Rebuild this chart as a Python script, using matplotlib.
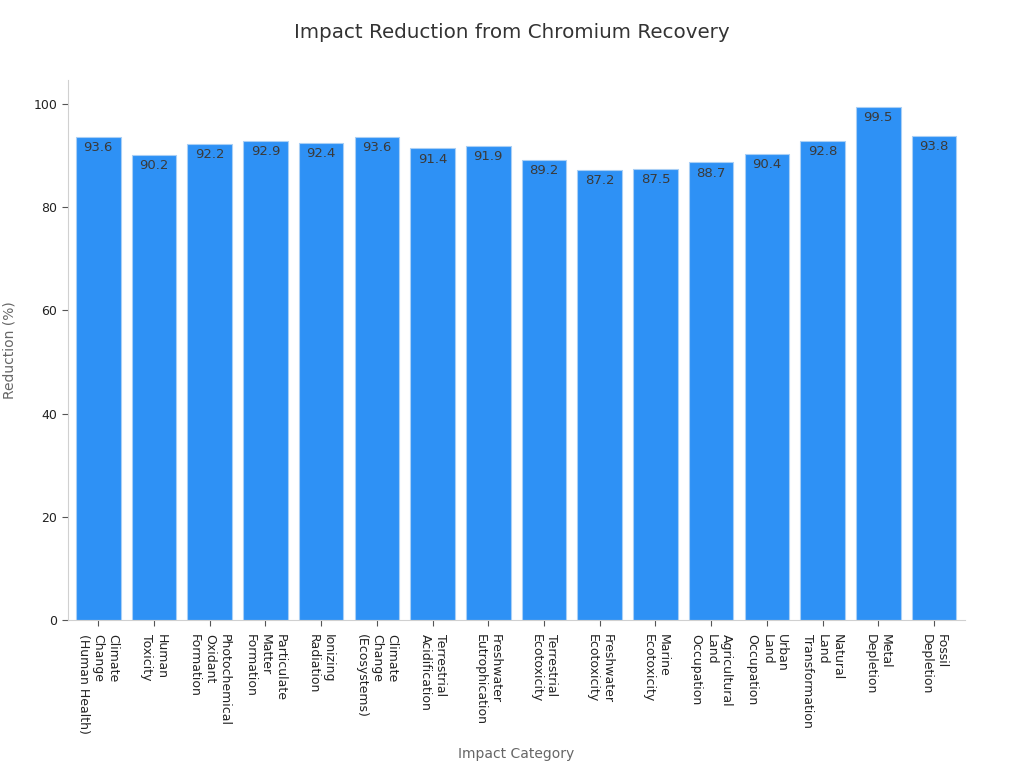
import numpy as np
import matplotlib.pyplot as plt

categories = ['Climate\nChange\n(Human Health)', 'Human\nToxicity', 'Photochemical\nOxidant\nFormation',
              'Particulate\nMatter\nFormation', 'Ionizing\nRadiation', 'Climate\nChange\n(Ecosystems)',
              'Terrestrial\nAcidification', 'Freshwater\nEutrophication', 'Terrestrial\nEcotoxicity',
              'Freshwater\nEcotoxicity', 'Marine\nEcotoxicity', 'Agricultural\nLand\nOccupation',
              'Urban\nLand\nOccupation', 'Natural\nLand\nTransformation', 'Metal\nDepletion', 'Fossil\nDepletion']
reduction = [93.6, 90.2, 92.2, 92.9, 92.4, 93.6, 91.4, 91.9, 89.2, 87.2, 87.5, 88.7, 90.4, 92.8, 99.5, 93.8]

fig = plt.figure(figsize=(10.24, 7.68), dpi=100)
ax = fig.add_axes([0.066, 0.193, 0.876, 0.703])

x = np.arange(len(categories))
bars = ax.bar(x, reduction, width=0.8, color='#2E91F5', edgecolor='#A9CFF5', linewidth=0.8)

for b, v in zip(bars, reduction):
    ax.annotate(f'{v}', (b.get_x() + b.get_width() / 2, v), xytext=(0, -3),
                textcoords='offset points', ha='center', va='top', fontsize=9.5, color='#3a3a3a')

ax.set_xticks(x)
ax.set_xticklabels(categories, rotation=270, ha='center', va='top', multialignment='left',
                   fontsize=9, color='#222222')
ax.set_xlim(-0.55, 15.55)
ax.set_ylim(0, 104.7)
ax.set_yticks([0, 20, 40, 60, 80, 100])
ax.tick_params(axis='y', labelsize=9, colors='#222222', length=4, color='#555555')
ax.tick_params(axis='x', length=4, color='#555555', pad=6)
for s in ['top', 'right']:
    ax.spines[s].set_visible(False)
for s in ['left', 'bottom']:
    ax.spines[s].set_color('#D0D0D0')

ax.set_xlabel('Impact Category', fontsize=10, color='#666666', labelpad=10)
ax.set_ylabel('Reduction (%)', fontsize=10, color='#666666', labelpad=12)
fig.suptitle('Impact Reduction from Chromium Recovery', fontsize=14.3, color='#333333', y=0.97)

fig.savefig('out.png', dpi=100)
